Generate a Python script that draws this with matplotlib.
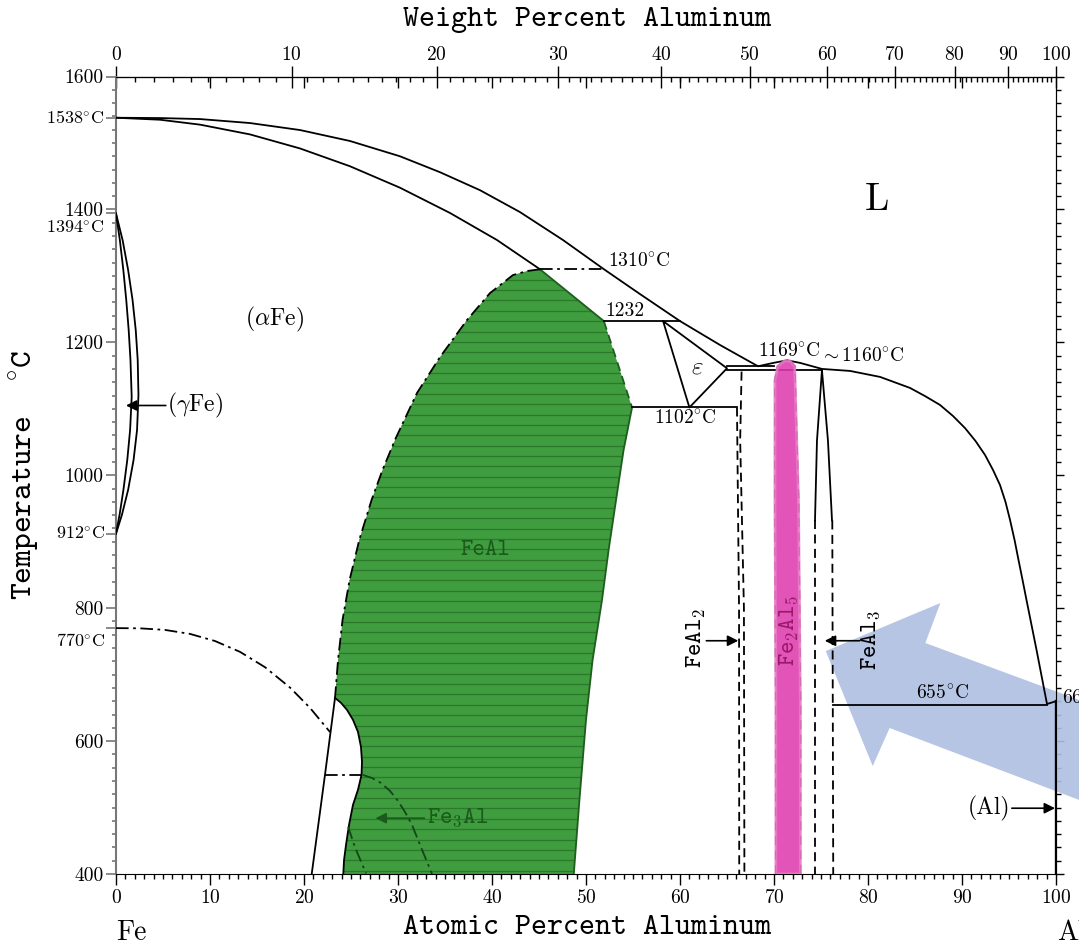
import numpy as np
import matplotlib
matplotlib.use('Agg')
import matplotlib.pyplot as plt
from matplotlib.patches import Polygon

plt.rcParams['font.family'] = ['cmr10', 'DejaVu Serif']
plt.rcParams['mathtext.fontset'] = 'cm'
plt.rcParams['axes.unicode_minus'] = False
plt.rcParams['axes.formatter.use_mathtext'] = True

# -------------------------------
# Data  (x = atomic % Al, t = temperature in C)
# -------------------------------

M_AL = 26.98
M_FE = 55.85

# liquidus, Fe side -> Fe2Al5 hump -> Al
liq_x = [0, 4.68, 8.94, 14.26, 19.57, 24.89, 30.21, 34.47, 38.72, 42.98, 47.55,
         51.91, 55.74, 60.0, 64.26, 68.3, 69.9, 71.4, 72.8, 75.11,
         78.09, 81.28, 84.47, 86.06, 87.66, 89.04, 90.32, 91.44, 92.45, 93.3,
         94.04, 94.63, 95.11, 95.59, 96.01, 96.44, 96.86, 97.93, 99.04, 100]
liq_t = [1538, 1537.5, 1536, 1530, 1519.5, 1503, 1480, 1456, 1429, 1396, 1354,
         1310, 1272.7, 1232, 1196, 1164, 1169, 1173, 1169, 1160,
         1157, 1148, 1131.4, 1119.2, 1105.8, 1089.2, 1071, 1051.5, 1030.5, 1007.9,
         985.4, 959.7, 932.7, 902.6, 872.5, 842.4, 812.3, 737, 655.8, 660]

# solidus of (alpha Fe)
sol_x = [0, 4.68, 8.94, 14.26, 19.57, 24.89, 30.21, 35.53, 40.53, 45.1]
sol_t = [1538, 1535, 1527.6, 1512.9, 1491.8, 1465, 1432.7, 1394.7, 1354, 1310]

# gamma loop
gam_out_x = [0, 0.70, 1.29, 1.76, 2.10, 2.31, 2.39, 2.24, 1.87, 1.29, 0.63, 0]
gam_out_t = [1394, 1354, 1309, 1264, 1218.6, 1173.5, 1120.8, 1068, 1023, 978, 940.5, 912]
gam_in_x = [0, 0.41, 0.78, 1.09, 1.35, 1.54, 1.67, 1.50, 1.20, 0.79, 0.38, 0]
gam_in_t = [1394, 1354, 1309, 1264, 1218.6, 1173.5, 1117.8, 1068, 1023, 978, 940.5, 912]

# magnetic transition
curie_x = [0, 2.55, 5.21, 7.87, 10.53, 13.19, 15.85, 18.51, 20.64, 22.77]
curie_t = [770, 769.7, 767.3, 761.3, 750.6, 734.3, 711.2, 680.6, 650, 613.6]

# FeAl (B2) field
feal_top_x = [45.1, 51.9]
feal_top_t = [1310, 1232]
feal_mid_x = [51.9, 54.9]
feal_mid_t = [1232, 1102]
feal_right_x = [54.9, 54.0, 53.2, 52.4, 51.7, 50.7, 50.0, 49.3, 48.7]
feal_right_t = [1102, 1038, 963, 887, 812, 722, 632, 511, 400]
feal_left_x = [45.1, 43.72, 42.23, 39.79, 37.34, 34.47, 32.02, 29.77, 28.35, 27.19,
               25.88, 24.85, 24.1, 23.62, 23.3]
feal_left_t = [1310, 1307.3, 1301.3, 1274.2, 1233.6, 1177.9, 1123.8, 1056.1, 1007.9, 962.9,
               902.7, 842.5, 782.3, 722, 665]
fe3al_edge_x = [23.3, 23.94, 24.57, 25.21, 25.74, 26.06, 26.17, 26.12, 25.74, 25.21,
                24.79, 24.47, 24.26, 24.18]
fe3al_edge_t = [665, 657.5, 647, 632, 613.9, 591.3, 568.8, 549.2, 526.6, 504,
                474, 443.9, 421.3, 400]

alpha_solvus_x = [20.82, 22.23, 23.3]
alpha_solvus_t = [400, 549, 665]

do3_line_x = [22.2, 26.12]
do3_line_t = [549, 549]
do3_a_x = [26.28, 27.23, 28.19, 29.15, 30.0, 30.74, 31.49, 32.13, 32.87, 33.62]
do3_a_t = [549, 544.5, 537, 525, 510, 493.4, 473.9, 451.3, 425.7, 400]
do3_b_x = [24.7, 25.4, 26.6]
do3_b_t = [471, 441, 401]

# invariant lines
h1310_x = [45.1, 51.9]
h1310_t = [1310, 1310]
h1232_x = [51.9, 60.0]
h1232_t = [1232, 1232]
h1102_x = [54.9, 66.06]
h1102_t = [1102, 1102]
h1165_x = [65.0, 70.0]
h1165_t = [1165, 1165]
h1160_x = [65.0, 75.1]
h1160_t = [1158, 1158]
h655_x = [76.3, 99.0]
h655_t = [655, 655]

# epsilon triangle
eps_x = [58.2, 65.0, 61.0, 58.2]
eps_t = [1232, 1161, 1102, 1232]

# FeAl2
feal2_left_x = [66.06, 66.28, 66.3]
feal2_left_t = [1102, 800, 400]
feal2_right_x = [66.55, 66.4, 66.8, 66.85]
feal2_right_t = [1156, 1053, 800, 400]

# Fe2Al5
fe2al5_left_x = [70.2, 70.2, 70.1, 70.1, 70.4, 71.1]
fe2al5_left_t = [400, 662, 963, 1143, 1164, 1172]
fe2al5_right_x = [71.7, 72.2, 72.3, 72.6, 72.8, 72.8]
fe2al5_right_t = [1172, 1164, 1110, 963, 662, 400]

# FeAl3
feal3_left_x = [75.1, 74.57, 74.36]
feal3_left_t = [1158, 1052, 932]
feal3_left_low_x = [74.36, 74.36]
feal3_left_low_t = [932, 400]
feal3_right_x = [75.1, 75.74, 76.17]
feal3_right_t = [1158, 1052, 932]
feal3_right_low_x = [76.2, 76.3]
feal3_right_low_t = [932, 400]

# (Al)
al_x = [99.95, 99.95]
al_t = [660, 400]

# blue arrow overlay
blue_x = [75.5, 87.7, 86.1, 105, 105, 82.3, 80.5]
blue_t = [735.5, 807.8, 747.6, 648.6, 497.8, 619.7, 562.5]

# axis ticks
t_major = [400, 600, 800, 1000, 1200, 1400, 1600]
t_special = [1538, 1394, 912, 770]
wt_major = [0, 10, 20, 30, 40, 50, 60, 70, 80, 90, 100]


def at_to_wt(a):
    a = np.asarray(a, dtype=float)
    return 100 * a * M_AL / (a * M_AL + (100 - a) * M_FE)


def wt_to_at(w):
    w = np.asarray(w, dtype=float)
    return 100 * (w / M_AL) / (w / M_AL + (100 - w) / M_FE)


# -------------------------------
# Figure
# -------------------------------

fig = plt.figure(figsize=(10.79, 9.46), dpi=100)
ax = fig.add_axes([0.1075, 0.0761, 0.8712, 0.8430])
ax.set_xlim(0, 100)
ax.set_ylim(400, 1600)

K = 'black'
LW = 1.3
DG = '#1d5e1d'
dashdot = (0, (7, 2.5, 1.5, 2.5))
dashed = (0, (5, 3))

# blue arrow overlay (under the lines)
blue = Polygon(np.column_stack([blue_x, blue_t]), closed=True, facecolor='#b0bfe2',
               edgecolor='none', alpha=0.9, zorder=0.5, clip_on=False)
ax.add_patch(blue)

# green FeAl field
feal_poly_x = feal_top_x + feal_mid_x[1:] + feal_right_x[1:] + fe3al_edge_x[::-1] + feal_left_x[::-1][1:]
feal_poly_t = feal_top_t + feal_mid_t[1:] + feal_right_t[1:] + fe3al_edge_t[::-1] + feal_left_t[::-1][1:]
green = Polygon(np.column_stack([feal_poly_x, feal_poly_t]), closed=True,
                facecolor='#3f9c3f', edgecolor='none', zorder=1)
ax.add_patch(green)
hatch = ax.hlines(np.arange(405, 1320, 15.6), 15, 60, color='#2a7a2a', lw=0.9, zorder=1.5)
hatch.set_clip_path(green)

ax.plot(feal_top_x, feal_top_t, color=DG, lw=LW, zorder=3)
ax.plot(feal_mid_x, feal_mid_t, color=DG, lw=LW, ls=dashed, zorder=3)
ax.plot(feal_right_x, feal_right_t, color=DG, lw=LW, zorder=3)
ax.plot(feal_left_x, feal_left_t, color=K, lw=LW, ls=dashdot, zorder=3)
ax.plot(fe3al_edge_x, fe3al_edge_t, color=K, lw=LW, zorder=3)

# main boundaries
ax.plot(liq_x, liq_t, color=K, lw=LW, zorder=3)
ax.plot(sol_x, sol_t, color=K, lw=LW, zorder=3)
ax.plot(gam_out_x, gam_out_t, color=K, lw=LW, zorder=3)
ax.plot(gam_in_x, gam_in_t, color=K, lw=LW, zorder=3)
ax.plot(curie_x, curie_t, color=K, lw=LW, ls=dashdot, zorder=3)
ax.plot(alpha_solvus_x, alpha_solvus_t, color=K, lw=LW, zorder=3)
ax.plot(do3_line_x, do3_line_t, color=K, lw=LW, ls=dashdot, zorder=3)
ax.plot(do3_a_x, do3_a_t, color='#14451a', lw=LW, ls=dashdot, zorder=3)
ax.plot(do3_b_x, do3_b_t, color='#14451a', lw=LW, ls=dashdot, zorder=3)

ax.plot(h1310_x, h1310_t, color=K, lw=LW, ls=dashdot, zorder=3)
for hx, ht in [(h1232_x, h1232_t), (h1102_x, h1102_t), (h1165_x, h1165_t),
               (h1160_x, h1160_t), (h655_x, h655_t)]:
    ax.plot(hx, ht, color=K, lw=LW, zorder=3)
ax.plot(eps_x, eps_t, color=K, lw=LW, zorder=3)

ax.plot(feal2_left_x, feal2_left_t, color=K, lw=LW, ls=dashed, zorder=3)
ax.plot(feal2_right_x, feal2_right_t, color=K, lw=LW, ls=dashed, zorder=3)
ax.plot(fe2al5_left_x, fe2al5_left_t, color=K, lw=LW, ls=dashed, zorder=3)
ax.plot(fe2al5_right_x, fe2al5_right_t, color=K, lw=LW, ls=dashed, zorder=3)
ax.plot(feal3_left_x, feal3_left_t, color=K, lw=LW, zorder=3)
ax.plot(feal3_right_x, feal3_right_t, color=K, lw=LW, zorder=3)
ax.plot(feal3_left_low_x, feal3_left_low_t, color=K, lw=LW, ls=dashed, zorder=3)
ax.plot(feal3_right_low_x, feal3_right_low_t, color=K, lw=LW, ls=dashed, zorder=3)
ax.plot(al_x, al_t, color=K, lw=2.4, zorder=3)

# pink Fe2Al5 band
pink = Polygon(np.column_stack([fe2al5_left_x + fe2al5_right_x, fe2al5_left_t + fe2al5_right_t]),
               closed=True, facecolor='#e03cae', edgecolor='#ea7cc8', lw=2.0,
               alpha=0.88, zorder=4)
ax.add_patch(pink)

# -------------------------------
# Labels inside the plot
# -------------------------------

deg = r'$^{\circ}$'
ax.text(52.3, 1322, '1310' + deg + 'C', fontsize=14, ha='left', va='center')
ax.text(52.1, 1247, '1232', fontsize=14, ha='left', va='center')
ax.text(71.6, 1186, '1169' + deg + 'C', fontsize=14, ha='center', va='center', zorder=6)
ax.text(74.9, 1178, r'$\sim$' + '1160' + deg + 'C', fontsize=14, ha='left', va='center')
ax.text(60.6, 1086, '1102' + deg + 'C', fontsize=14, ha='center', va='center')
ax.text(87.9, 672, '655' + deg + 'C', fontsize=14, ha='center', va='center', zorder=6)
ax.text(100.6, 664, '660' + deg + 'C', fontsize=14, ha='left', va='center', clip_on=False)
ax.text(16.9, 1234, r'($\alpha$Fe)', fontsize=17, ha='center', va='center')
ax.text(81.0, 1414, 'L', fontsize=28, ha='center', va='center')
ax.text(61.8, 1163, r'$\varepsilon$', fontsize=18, ha='center', va='center')
ax.text(39.3, 887, 'FeAl', fontsize=17, family='cmtt10', color='#1a5a1a',
        ha='center', va='center', zorder=6)

ax.text(5.4, 1105, r'($\gamma$Fe)', fontsize=17, ha='left', va='center')
ax.annotate('', xy=(1.06, 1105), xytext=(5.3, 1105),
            arrowprops=dict(arrowstyle='-|>', mutation_scale=16, lw=1.2, color=K,
                            shrinkA=0, shrinkB=0), zorder=6)

ax.text(33.1, 484, r'Fe$_3$Al', fontsize=17, family='cmtt10', color='#1a5a1a',
        ha='left', va='center', zorder=6)
ax.annotate('', xy=(27.6, 484), xytext=(32.8, 484),
            arrowprops=dict(arrowstyle='-|>', mutation_scale=16, lw=1.2, color='#1a5a1a',
                            shrinkA=0, shrinkB=0), zorder=6)

ax.text(61.8, 755, r'FeAl$_2$', fontsize=17, family='cmtt10', rotation=90,
        ha='center', va='center')
ax.annotate('', xy=(66.2, 751), xytext=(62.8, 751),
            arrowprops=dict(arrowstyle='-|>', mutation_scale=16, lw=1.2, color=K,
                            shrinkA=0, shrinkB=0), zorder=6)

ax.text(80.3, 752, r'FeAl$_3$', fontsize=17, family='cmtt10', rotation=90,
        ha='center', va='center', zorder=6)
ax.annotate('', xy=(75.4, 751), xytext=(79.1, 751),
            arrowprops=dict(arrowstyle='-|>', mutation_scale=16, lw=1.2, color=K,
                            shrinkA=0, shrinkB=0), zorder=6)

ax.text(71.6, 767, r'Fe$_2$Al$_5$', fontsize=17, family='cmtt10', rotation=90,
        color='#9a1a6a', ha='center', va='center', zorder=6)

ax.text(95.1, 499, '(Al)', fontsize=17, ha='right', va='center')
ax.annotate('', xy=(99.9, 499), xytext=(95.3, 499),
            arrowprops=dict(arrowstyle='-|>', mutation_scale=16, lw=1.2, color=K,
                            shrinkA=0, shrinkB=0), zorder=6)

# -------------------------------
# Axes, ticks
# -------------------------------

GR = '#777777'
ax.spines['left'].set_color(GR)
ax.spines['left'].set_linewidth(1.5)

ax.set_xticks(range(0, 101, 10))
ax.set_xticks(range(0, 101, 1), minor=True)
ax.tick_params(axis='x', which='major', direction='out', length=8, width=1, labelsize=14, pad=3)
ax.tick_params(axis='x', which='minor', direction='out', length=3.5, width=1)

ax.set_yticks(t_major + t_special)
ax.set_yticklabels([str(t) for t in t_major] + [''] * len(t_special))
ax.set_yticks(range(400, 1601, 20), minor=True)
ax.tick_params(axis='y', which='major', direction='out', length=7, width=1.2, color=GR,
               labelsize=14, pad=2)
ax.tick_params(axis='y', which='minor', direction='out', length=3, width=1.2, color=GR)

special_offsets = {1538: 0, 1394: -10, 912: 0, 770: -9}
for t in t_special:
    ax.annotate(str(t) + deg + 'C', xy=(0, t), xycoords=('axes fraction', 'data'),
                xytext=(-8, special_offsets[t]), textcoords='offset points',
                ha='right', va='center', fontsize=13, annotation_clip=False)

# weight percent scale
top_wt = ax.secondary_xaxis('top', functions=(at_to_wt, wt_to_at))
top_wt.set_xticks(wt_major)
top_wt.set_xticks(range(0, 101, 1), minor=True)
top_wt.tick_params(which='major', direction='inout', length=16, width=1, labelsize=14, pad=1)
top_wt.tick_params(which='minor', direction='in', length=3.5, width=1)

top_at = ax.secondary_xaxis('top')
top_at.set_xticks(range(10, 100, 10))
top_at.set_xticklabels([])
top_at.tick_params(which='major', direction='in', length=8, width=1)

right = ax.secondary_yaxis('right')
right.set_yticks(t_major)
right.set_yticklabels([])
right.set_yticks(range(400, 1601, 20), minor=True)
right.tick_params(which='major', direction='out', length=6, width=1)
right.tick_params(which='minor', direction='out', length=3.5, width=1)

fig.text(0.544, 0.979, 'Weight Percent Aluminum', family='cmtt10', fontsize=22,
         ha='center', va='center')
fig.text(0.544, 0.019, 'Atomic Percent Aluminum', family='cmtt10', fontsize=22,
         ha='center', va='center')
fig.text(0.023, 0.498, 'Temperature  ' + deg + 'C', family='cmtt10', fontsize=23,
         rotation=90, ha='center', va='center')
fig.text(0.122, 0.014, 'Fe', fontsize=20, ha='center', va='center')
fig.text(0.980, 0.014, 'Al', fontsize=20, ha='left', va='center')

fig.savefig('out.png', dpi=100)
